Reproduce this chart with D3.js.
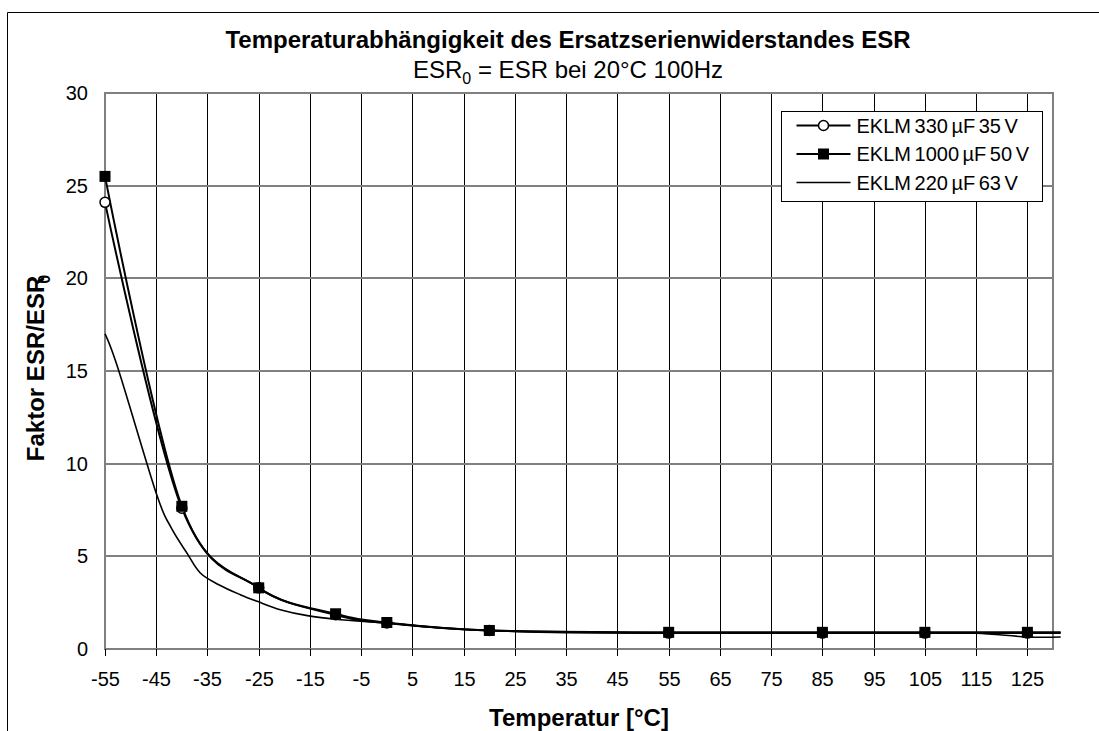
<!DOCTYPE html>
<html>
<head>
<meta charset="utf-8">
<script src="https://cdn.jsdelivr.net/npm/d3@7"></script>
<style>
  body { margin: 0; background: #fff; }
  text { font-family: "Liberation Sans", Arial, sans-serif; fill: #000; }
</style>
</head>
<body>
<div id="chart"></div>
<script>
// measured points (markers) of the two marked series, last value is the run-out past the frame
var tempsMarked = [-55, -40, -25, -10, 0, 20, 55, 85, 105, 125, 131.5];
var esr330 = [24.1, 7.6, 3.3, 1.85, 1.4, 1.0, 0.86, 0.86, 0.86, 0.86, 0.86];
var esr1000 = [25.5, 7.7, 3.3, 1.9, 1.43, 1.0, 0.9, 0.9, 0.9, 0.9, 0.9];

// unmarked series
var temps220 = [-55, -52.3, -45, -42.2, -39, -36.4, -32.8, -28.6, -25.3, -20.8, -15.5, -9, -4.5, 0, 10, 20, 35, 55, 85, 105, 115, 125, 131.5];
var esr220 = [17, 15, 8.4, 6.6, 5.17, 4.1, 3.47, 2.93, 2.57, 2.12, 1.8, 1.58, 1.49, 1.4, 1.15, 1.0, 0.88, 0.85, 0.85, 0.85, 0.85, 0.65, 0.65];

var xTicks = d3.range(-55, 126, 10);
var yTicks = [0, 5, 10, 15, 20, 25, 30];
var legendNames = ["EKLM 330 \u00b5F 35 V", "EKLM 1000 \u00b5F 50 V", "EKLM 220 \u00b5F 63 V"];

var width = 1099, height = 731;
var margin = { top: 93, right: 46, bottom: 82, left: 105 };

var svg = d3.select("#chart")
    .append("svg")
    .attr("width", width)
    .attr("height", height);

// outer chart border (cut off at the bottom and right)
svg.append("path")
    .attr("d", "M7.5," + height + "V12.5H1099")
    .attr("fill", "none")
    .attr("stroke", "#000")
    .attr("stroke-width", 1);

var x = d3.scaleLinear()
    .domain([-55, 130])
    .range([margin.left, width - margin.right]);

var y = d3.scaleLinear()
    .domain([0, 30])
    .range([height - margin.bottom, margin.top]);

function crisp(v) { return Math.round(v) + 0.5; }

// vertical grid (black)
svg.append("g")
    .selectAll("line")
    .data(xTicks.slice(1))
    .enter()
    .append("line")
    .attr("x1", function(d) { return crisp(x(d)); })
    .attr("x2", function(d) { return crisp(x(d)); })
    .attr("y1", y(0))
    .attr("y2", y(30))
    .attr("stroke", "#000")
    .attr("stroke-width", 1);

// horizontal grid (grey)
svg.append("g")
    .selectAll("line")
    .data(yTicks.slice(1, -1))
    .enter()
    .append("line")
    .attr("x1", x(-55))
    .attr("x2", x(130))
    .attr("y1", function(d) { return Math.round(y(d)); })
    .attr("y2", function(d) { return Math.round(y(d)); })
    .attr("stroke", "#808080")
    .attr("stroke-width", 2);

// plot frame
svg.append("rect")
    .attr("x", x(-55))
    .attr("y", y(30))
    .attr("width", x(130) - x(-55))
    .attr("height", y(0) - y(30))
    .attr("fill", "none")
    .attr("stroke", "#808080")
    .attr("stroke-width", 2);

// x axis ticks + labels
var fmt = function(d) { return String(d); };
var xAxis = svg.append("g")
    .attr("transform", "translate(0," + y(0) + ")")
    .call(d3.axisBottom(x).tickValues(xTicks).tickSize(7).tickPadding(16).tickFormat(fmt));
xAxis.select(".domain").remove();
xAxis.selectAll(".tick").attr("transform", function(d) { return "translate(" + crisp(x(d)) + ",0)"; });
xAxis.selectAll("text").attr("font-size", 20).style("font-family", "'Liberation Sans', Arial, sans-serif");

// y axis labels
var yAxis = svg.append("g")
    .attr("transform", "translate(" + x(-55) + ",0)")
    .call(d3.axisLeft(y).tickValues(yTicks).tickSize(0).tickPadding(17).tickFormat(fmt));
yAxis.select(".domain").remove();
yAxis.selectAll("text").attr("font-size", 20).style("font-family", "'Liberation Sans', Arial, sans-serif");

// titles
svg.append("text")
    .attr("x", 568)
    .attr("y", 48)
    .attr("text-anchor", "middle")
    .attr("font-size", 24)
    .attr("font-weight", "bold")
    .text("Temperaturabhängigkeit des Ersatzserienwiderstandes ESR");

var sub = svg.append("text")
    .attr("x", 568)
    .attr("y", 78)
    .attr("text-anchor", "middle")
    .attr("font-size", 24);
sub.append("tspan").text("ESR");
sub.append("tspan").attr("font-size", 16).attr("dy", 6).text("0");
sub.append("tspan").attr("dy", -6).text(" = ESR bei 20°C 100Hz");

svg.append("text")
    .attr("x", (x(-55) + x(130)) / 2)
    .attr("y", 726)
    .attr("text-anchor", "middle")
    .attr("font-size", 24)
    .attr("font-weight", "bold")
    .text("Temperatur [°C]");

var yTitle = svg.append("text")
    .attr("transform", "translate(44,368) rotate(-90)")
    .attr("text-anchor", "middle")
    .attr("font-size", 24)
    .attr("font-weight", "bold");
yTitle.append("tspan").text("Faktor ESR/ESR");
yTitle.append("tspan").attr("font-size", 16).attr("dx", -8).attr("dy", 6).text("0");

// lines
var line = d3.line()
    .x(function(d) { return x(d[0]); })
    .y(function(d) { return y(d[1]); })
    .curve(d3.curveCardinal.tension(0));

var s220 = d3.zip(temps220, esr220);
var s330 = d3.zip(tempsMarked, esr330);
var s1000 = d3.zip(tempsMarked, esr1000);

svg.append("path").datum(s220)
    .attr("d", line).attr("fill", "none").attr("stroke", "#000").attr("stroke-width", 1.6);
svg.append("path").datum(s330)
    .attr("d", line).attr("fill", "none").attr("stroke", "#000").attr("stroke-width", 2);
svg.append("path").datum(s1000)
    .attr("d", line).attr("fill", "none").attr("stroke", "#000").attr("stroke-width", 2);

function isMarked(d) { return d[0] <= 125; }

svg.append("g")
    .selectAll("circle")
    .data(s330.filter(isMarked))
    .enter()
    .append("circle")
    .attr("cx", function(d) { return x(d[0]); })
    .attr("cy", function(d) { return y(d[1]); })
    .attr("r", 5)
    .attr("fill", "#fff")
    .attr("stroke", "#000")
    .attr("stroke-width", 1.5);

svg.append("g")
    .selectAll("rect")
    .data(s1000.filter(isMarked))
    .enter()
    .append("rect")
    .attr("x", function(d) { return x(d[0]) - 5.5; })
    .attr("y", function(d) { return y(d[1]) - 5.5; })
    .attr("width", 11)
    .attr("height", 11)
    .attr("fill", "#000");

// legend
var legend = svg.append("g").attr("transform", "translate(781.5,111.5)");
legend.append("rect")
    .attr("width", 261)
    .attr("height", 90)
    .attr("fill", "#fff")
    .attr("stroke", "#000")
    .attr("stroke-width", 1);

var rows = legend.selectAll("g.row")
    .data(legendNames)
    .enter()
    .append("g")
    .attr("class", "row")
    .attr("transform", function(d, i) { return "translate(0," + (14 + i * 28.5) + ")"; });

rows.append("line")
    .attr("x1", 15).attr("x2", 69)
    .attr("stroke", "#000")
    .attr("stroke-width", function(d, i) { return i < 2 ? 2 : 1.6; });

rows.append("text")
    .attr("x", 75)
    .attr("dy", "0.35em")
    .attr("font-size", 20)
    .attr("word-spacing", -2)
    .text(function(d) { return d; });

legend.select("g.row").append("circle")
    .attr("cx", 42).attr("r", 5)
    .attr("fill", "#fff").attr("stroke", "#000").attr("stroke-width", 1.5);
d3.select(rows.nodes()[1]).append("rect")
    .attr("x", 36.5).attr("y", -5.5).attr("width", 11).attr("height", 11)
    .attr("fill", "#000");
</script>
</body>
</html>
